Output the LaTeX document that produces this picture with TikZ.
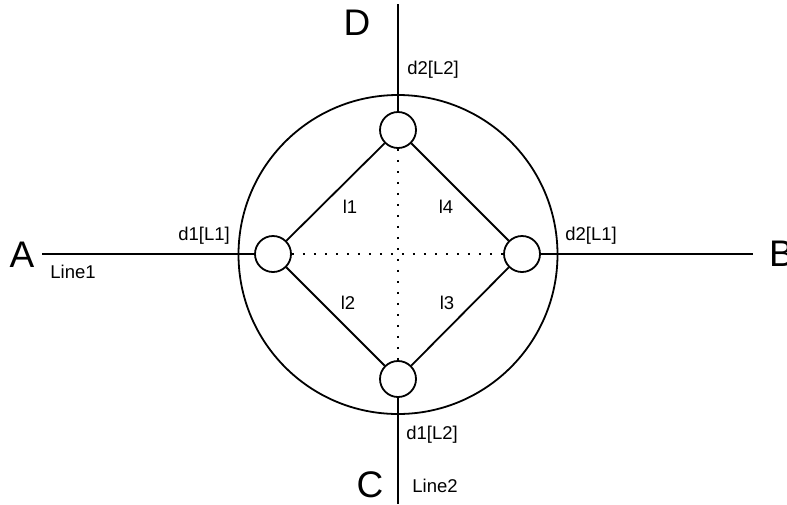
\documentclass[tikz,border=0pt]{standalone}
\usepackage{fontspec}
\setmainfont{Liberation Sans}
\begin{document}
\begin{tikzpicture}[x=1pt,y=-1pt,
  ln/.style={line width=1.8pt, black},
  dotl/.style={line width=2pt, dash pattern=on 2pt off 9pt},
  port/.style={circle, draw, line width=1.8pt, minimum size=36pt, inner sep=0pt, fill=white},
  small/.style={font=\fontsize{18.5}{22}\selectfont, inner sep=0pt},
  big/.style={font=\fontsize{37}{42}\selectfont, inner sep=0pt}]
\useasboundingbox (0,0) rectangle (787,504);
\fill[white] (0,0) rectangle (787,504);
\coordinate (ctr) at (398,254.5);
\coordinate (aend) at (42,254);
\coordinate (bend) at (753,254);
\coordinate (dend) at (398,4);
\coordinate (cend) at (398,504);
\draw[ln] (ctr) circle (159.5);
\node[port] (pl) at (273,254) {};
\node[port] (pr) at (522,254) {};
\node[port] (pt) at (398,130) {};
\node[port] (pb) at (398,379) {};
\draw[ln] (aend) -- (pl.west);
\draw[ln] (pr.east) -- (bend);
\draw[ln] (dend) -- (pt.north);
\draw[ln] (pb.south) -- (cend);
\draw[ln] (pl) -- (pt);
\draw[ln] (pt) -- (pr);
\draw[ln] (pr) -- (pb);
\draw[ln] (pb) -- (pl);
\draw[dotl] (pl.east) -- (pr.west);
\draw[dotl] (pt.south) -- (pb.north);
\node[big] (A) at (22,255) {A};
\node[big, anchor=west] (B) at (769,254) {B};
\node[big] (D) at (357,23) {D};
\node[big] (C) at (370,485) {C};
\node[small] (line1) at (73,272) {Line1};
\node[small] (line2) at (435,486) {Line2};
\node[small] (d1l1) at (204,236) {d1[L1]};
\node[small] (d2l1) at (591,236) {d2[L1]};
\node[small] (d2l2) at (433,70) {d2[L2]};
\node[small] (d1l2) at (432,435) {d1[L2]};
\node[small] (l1) at (350,207) {l1};
\node[small] (l4) at (446,207) {l4};
\node[small] (l2) at (348,303) {l2};
\node[small] (l3) at (447,303) {l3};
\end{tikzpicture}
\end{document}
